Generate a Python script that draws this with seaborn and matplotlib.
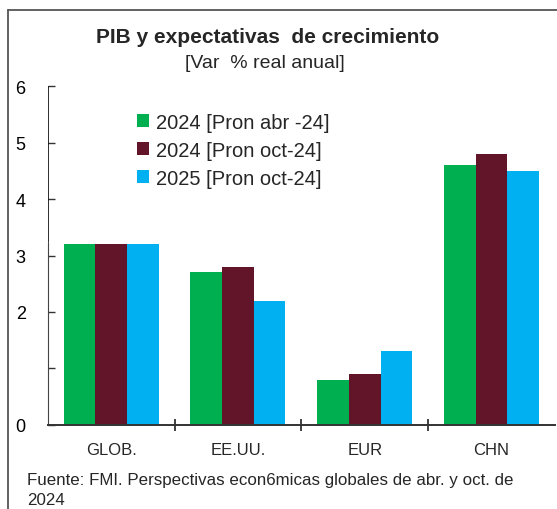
import matplotlib.pyplot as plt
import seaborn as sns
import pandas as pd
from matplotlib.lines import Line2D

# data
regions = ['GLOB.', 'EE.UU.', 'EUR', 'CHN']
series = ['2024 [Pron abr -24]', '2024 [Pron oct-24]', '2025 [Pron oct-24]']
pron_abr_24 = [3.2, 2.7, 0.8, 4.6]
pron_oct_24 = [3.2, 2.8, 0.9, 4.8]
pron_oct_25 = [3.2, 2.2, 1.3, 4.5]
colors = ['#00B050', '#621428', '#00B0F0']
y_ticks = [0, 1, 2, 3, 4, 5, 6]
y_labels = ['0', '', '2', '3', '4', '5', '6']

df = pd.DataFrame({
    'region': regions * 3,
    'serie': [series[0]] * 4 + [series[1]] * 4 + [series[2]] * 4,
    'valor': pron_abr_24 + pron_oct_24 + pron_oct_25,
})

sns.set_style('white')
plt.rcParams['font.family'] = ['Liberation Sans', 'DejaVu Sans']

fig = plt.figure(figsize=(5.57, 5.10), dpi=100)
ax = fig.add_axes([0.086, 0.165, 0.91, 0.664])

sns.barplot(data=df, x='region', y='valor', hue='serie', palette=colors,
            width=0.75, gap=0, saturation=1, linewidth=0, ax=ax, legend=True)

ax.set_ylim(0, 6)
ax.set_xlim(-0.5, 3.5)
ax.set_xlabel('')
ax.set_ylabel('')
ax.set_yticks(y_ticks)
ax.set_yticklabels(y_labels, fontsize=13)
ax.tick_params(axis='y', direction='in', length=5, width=1, pad=16, colors='#333333', labelcolor='black', left=True)
ax.tick_params(axis='x', length=0, labelsize=12, pad=12)
ax.set_xticks([0.5, 1.5, 2.5], minor=True)
ax.tick_params(axis='x', which='minor', direction='inout', length=9, width=1.3, colors='#333333', bottom=True)

for side in ['top', 'right']:
    ax.spines[side].set_visible(False)
ax.spines['left'].set_bounds(0, 3.22)
ax.spines['left'].set_color('#444444')
ax.spines['bottom'].set_color('#333333')
ax.spines['bottom'].set_linewidth(1.4)
# stray heavy stroke above the axis in the original
ax.axvline(-0.505, ymin=3.24 / 6, ymax=1.0, color='black', lw=2.6)

handles, labels = ax.get_legend_handles_labels()
ax.legend(handles, labels, loc='upper left', bbox_to_anchor=(0.14, 0.975),
          frameon=False, fontsize=14.5, handlelength=0.6, handleheight=0.6,
          handletextpad=0.35, labelspacing=0.45)

fig.text(0.48, 0.927, 'PIB y expectativas  de crecimiento', ha='center', va='center',
         fontsize=15, fontweight='bold')
fig.text(0.475, 0.876, '[Var  % real anual]', ha='center', va='center', fontsize=14)
fig.text(0.048, 0.038, 'Fuente: FMI. Perspectivas econ6micas globales de abr. y oct. de\n2024',
         ha='left', va='center', fontsize=12.2, linespacing=1.4)

# frame lines at the left and top of the picture
fig.add_artist(Line2D([0.0145, 0.0145], [0.0, 0.978], color='#555555', lw=1.3))
fig.add_artist(Line2D([0.0145, 1.0], [0.978, 0.978], color='#555555', lw=1.3))

fig.savefig('out.png', dpi=100)
